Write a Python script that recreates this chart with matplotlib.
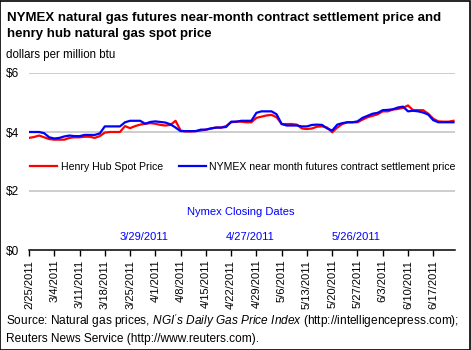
import matplotlib
matplotlib.use("Agg")
import matplotlib.pyplot as plt
from matplotlib.patches import Rectangle

plt.rcParams['font.family'] = ['Liberation Sans', 'DejaVu Sans']
plt.rcParams['mathtext.fontset'] = 'custom'
plt.rcParams['mathtext.rm'] = 'Liberation Sans'
plt.rcParams['mathtext.it'] = 'Liberation Sans:italic'

# dollars per million btu, one value per trading day from 2/25/2011
henry_hub = [3.80, 3.83, 3.88, 3.82, 3.76, 3.74, 3.74, 3.74, 3.80, 3.82,
             3.82, 3.84, 3.84, 3.80, 3.86, 3.98, 4.00, 4.00, 4.00, 4.20,
             4.13, 4.20, 4.25, 4.28, 4.30, 4.28, 4.24, 4.22, 4.24, 4.38,
             4.05, 4.02, 4.02, 4.03, 4.05, 4.08, 4.12, 4.15, 4.15, 4.20,
             4.33, 4.35, 4.35, 4.33, 4.33, 4.48, 4.52, 4.56, 4.58, 4.50,
             4.27, 4.27, 4.27, 4.25, 4.12, 4.10, 4.12, 4.18, 4.19, 4.15,
             3.99, 4.15, 4.27, 4.33, 4.33, 4.33, 4.42, 4.50, 4.55, 4.60,
             4.70, 4.70, 4.76, 4.78, 4.82, 4.90, 4.74, 4.74, 4.74, 4.62,
             4.45, 4.36, 4.35, 4.35, 4.38]
nymex = [4.00, 4.00, 4.00, 3.96, 3.82, 3.78, 3.80, 3.85, 3.88, 3.86,
         3.86, 3.90, 3.90, 3.90, 3.95, 4.19, 4.19, 4.19, 4.19, 4.33,
         4.38, 4.38, 4.38, 4.28, 4.34, 4.36, 4.34, 4.32, 4.26, 4.15,
         4.03, 4.03, 4.03, 4.03, 4.08, 4.08, 4.12, 4.15, 4.15, 4.17,
         4.35, 4.35, 4.38, 4.38, 4.38, 4.65, 4.70, 4.70, 4.70, 4.60,
         4.27, 4.22, 4.22, 4.22, 4.19, 4.19, 4.24, 4.25, 4.24, 4.12,
         4.05, 4.25, 4.30, 4.33, 4.33, 4.36, 4.48, 4.55, 4.62, 4.65,
         4.74, 4.75, 4.77, 4.83, 4.86, 4.70, 4.72, 4.70, 4.66, 4.59,
         4.40, 4.33, 4.33, 4.33, 4.33]
tick_labels = ["2/25/2011", "3/4/2011", "3/11/2011", "3/18/2011", "3/25/2011",
               "4/1/2011", "4/8/2011", "4/15/2011", "4/22/2011", "4/29/2011",
               "5/6/2011", "5/13/2011", "5/20/2011", "5/27/2011", "6/3/2011",
               "6/10/2011", "6/17/2011"]
closing_dates = ["3/29/2011", "4/27/2011", "5/26/2011"]
closing_idx = [22, 43, 64]

fig = plt.figure(figsize=(4.71, 3.5), dpi=100)
ax = fig.add_axes([29 / 471, 100 / 350, 426 / 471, 177 / 350])

x = list(range(len(nymex)))
ax.plot(x, henry_hub, color='#ff0000', lw=1.6, label='Henry Hub Spot Price')
ax.plot(x, nymex, color='#0000ff', lw=1.6,
        label='NYMEX near month futures contract settlement price')

ax.set_xlim(0, 84.3)
ax.set_ylim(0, 6)
ax.set_yticks([0, 2, 4, 6])
ax.set_yticklabels(['$0', '$2', '$4', '$6'], fontsize=8.5)
ax.tick_params(axis='y', length=0, pad=7)
for v in [2, 4, 6]:
    ax.axhline(v, color='#c0c0c0', lw=1.1, zorder=0)

ax.set_xticks(range(0, len(nymex), 5))
ax.set_xticklabels(tick_labels, rotation=90, fontsize=8)
ax.tick_params(axis='x', length=4, width=1, direction='out', pad=3)

for s in ['top', 'right', 'left']:
    ax.spines[s].set_visible(False)
ax.spines['bottom'].set_linewidth(1.1)

ax.text(42, 1.29, 'Nymex Closing Dates', color='#0000ff', fontsize=8,
        ha='center', va='center')
for d, i in zip(closing_dates, closing_idx):
    ax.text(i + 0.7, 0.44, d, color='#0000ff', fontsize=8, ha='center', va='center')

ax.legend(loc='upper left', bbox_to_anchor=(-0.02, 0.55), ncol=2, frameon=False,
          fontsize=7.6, handlelength=2.6, handletextpad=0.3, columnspacing=1.5)

fig.text(7 / 471, 1 - 26 / 350,
         'NYMEX natural gas futures near-month contract settlement price and\nhenry hub natural gas spot price',
         fontsize=9.5, fontweight='bold', va='center', ha='left', linespacing=1.5)
fig.text(6 / 471, 1 - 55 / 350, 'dollars per million btu', fontsize=8.3, va='center')
fig.text(6 / 471, 1 - 321 / 350,
         "Source: Natural gas prices, $\\it{NGI's\\ Daily\\ Gas\\ Price\\ Index}$ (http://intelligencepress.com);",
         fontsize=8.6, va='center')
fig.text(6 / 471, 1 - 339 / 350, 'Reuters News Service (http://www.reuters.com).',
         fontsize=8.6, va='center')

fig.patches.append(Rectangle((0.001, 0.001), 0.996, 0.997, transform=fig.transFigure,
                             fill=False, edgecolor='black', lw=1.2))

fig.savefig('out.png', dpi=100)
